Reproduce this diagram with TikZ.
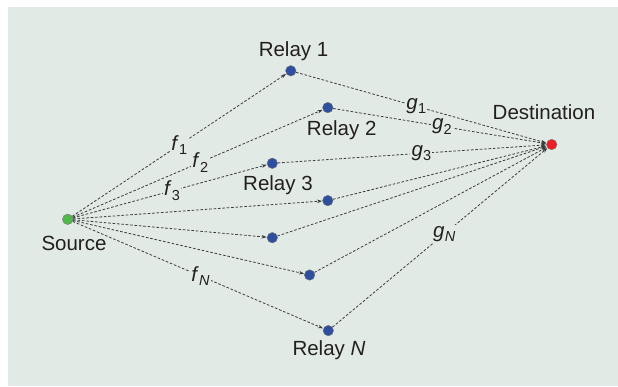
\documentclass[tikz,border=0pt]{standalone}
\usepackage{fontspec}
\setmainfont{Liberation Sans}
\usetikzlibrary{arrows.meta}
\definecolor{bgc}{RGB}{226,234,229}
\definecolor{txt}{RGB}{35,31,32}
\definecolor{relayc}{RGB}{46,79,160}
\definecolor{srcc}{RGB}{80,184,72}
\definecolor{dstc}{RGB}{238,30,36}
\definecolor{linec}{RGB}{60,60,60}
\newcommand\chlab[2]{\textit{#1}\kern0.3pt\raisebox{-4.5pt}{\fontsize{14.5}{14.5}\selectfont #2}}
\tikzset{
  dotnode/.style={circle, inner sep=0pt, minimum size=10.5pt, draw=black!55, line width=0.4pt},
  relay/.style={dotnode, fill=relayc},
  link/.style={draw=linec, line width=0.8pt, dash pattern=on 2.6pt off 1.8pt,
    -{Stealth[length=5pt,width=3.6pt]}, shorten >=0.3pt},
  lab/.style={fill=bgc, inner sep=1.2pt, text=txt, font=\fontsize{20.5}{24}\selectfont},
  nametext/.style={text=txt, font=\fontsize{20.5}{24}\selectfont, inner sep=0pt, anchor=base}
}
\begin{document}
\begin{tikzpicture}[x=1pt,y=-1pt]
\useasboundingbox (0,0) rectangle (618,386);
\fill[bgc] (8,7) rectangle (618,386);
% nodes
\node[dotnode, fill=srcc] (s) at (67.7,219.3) {};
\node[dotnode, fill=dstc] (d) at (551.7,144.5) {};
\node[relay] (r1) at (290.8,70.8) {};
\node[relay] (r2) at (327.8,107.6) {};
\node[relay] (r3) at (272.3,163.3) {};
\node[relay] (r4) at (327.8,200.6) {};
\node[relay] (r5) at (272.3,237.7) {};
\node[relay] (r6) at (309.6,275) {};
\node[relay] (rn) at (328.3,330.6) {};
% names
\node[nametext] (ls) at (74,250) {Source};
\node[nametext] (ld) at (544,119.3) {Destination};
\node[nametext] (l1) at (293.5,56) {Relay 1};
\node[nametext] (l2) at (341.7,135) {Relay 2};
\node[nametext] (l3) at (278,190.5) {Relay 3};
\node[nametext] (ln) at (329,355) {Relay \textit{N}};
% source to relays
\draw[link] (s) -- node[lab, pos=0.5] {\chlab{f}{1}} (r1);
\draw[link] (s) -- node[lab, pos=0.51] {\chlab{f}{2}} (r2);
\draw[link] (s) -- node[lab, pos=0.51] {\chlab{f}{3}} (r3);
\draw[link] (s) -- (r4);
\draw[link] (s) -- (r5);
\draw[link] (s) -- (r6);
\draw[link] (s) -- node[lab, pos=0.51] {\chlab{f}{\textit{N}}} (rn);
% relays to destination
\draw[link] (r1) -- node[lab, pos=0.48] {\chlab{g}{1}} (d);
\draw[link] (r2) -- node[lab, pos=0.51] {\chlab{g}{2}} (d);
\draw[link] (r3) -- node[lab, pos=0.535] {\chlab{g}{3}} (d);
\draw[link] (r4) -- (d);
\draw[link] (r5) -- (d);
\draw[link] (r6) -- (d);
\draw[link] (rn) -- node[lab, pos=0.52] {\chlab{g}{\textit{N}}} (d);
\end{tikzpicture}
\end{document}
